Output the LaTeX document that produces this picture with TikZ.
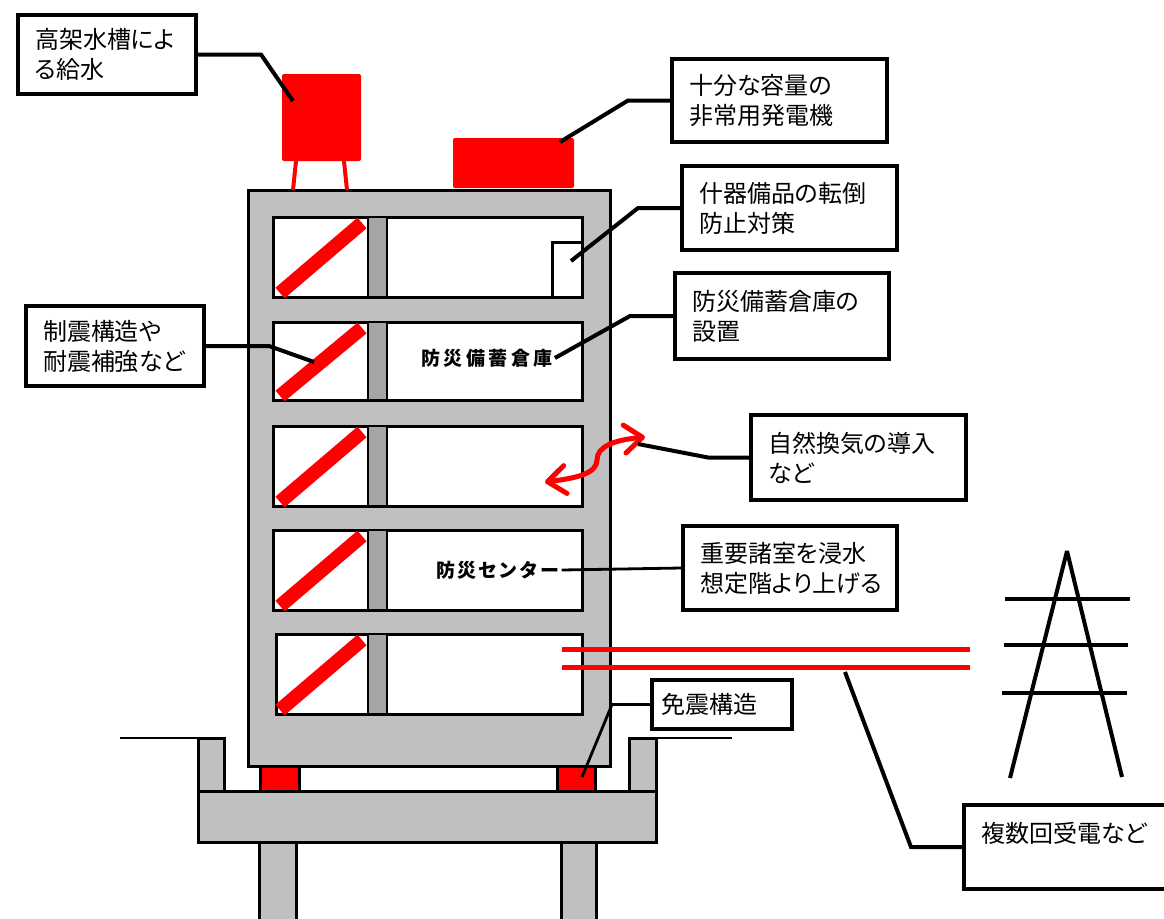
\documentclass[tikz,border=0pt]{standalone}
\usepackage{fontspec}
\usepackage{tikz}
\usetikzlibrary{arrows.meta}
\setmainfont{Noto Sans CJK JP}
\newfontfamily\calloutfont[RawFeature=+palt]{Noto Sans CJK JP}
\newfontfamily\roomfont{Noto Sans CJK JP}
\definecolor{bldGray}{HTML}{C0C0C0}
\definecolor{bldColumn}{HTML}{A5A5A5}
\definecolor{bldRed}{HTML}{FF0000}
\tikzset{
  concrete/.style={draw=black, fill=bldGray, line width=1.5pt},
  room/.style={draw=black, fill=white, line width=1.5pt},
  column/.style={draw=black, fill=bldColumn, line width=0.6pt},
  brace/.style={draw=bldRed, line width=7pt},
  callout/.style={draw=black, line width=2pt, fill=white, anchor=north west,
    align=left, inner xsep=8.5pt, inner ysep=0pt,
    font=\calloutfont\fontsize{12pt}{15pt}\selectfont},
  leader/.style={draw=black, line width=2pt},
  thin leader/.style={draw=black, line width=1.4pt},
  room label/.style={font=\roomfont\bfseries\fontsize{9.5pt}{11pt}\selectfont,
    inner sep=1pt},
  cable/.style={draw=bldRed, line width=2.5pt},
  tower/.style={draw=black, line width=2pt, line join=bevel},
  airflow/.style={draw=bldRed, line width=2.5pt, line cap=round,
    {Straight Barb[length=9pt,width=14pt,round]}-{Straight Barb[length=9pt,width=14pt,round]}}
}

\begin{document}
\begin{tikzpicture}[x=0.5pt, y=-0.5pt]
  \useasboundingbox (0,0) rectangle (1164,918);
  % piles, footing, retaining walls
  \draw[concrete] (259,842) rectangle (296,930);
  \draw[concrete] (561,842) rectangle (596,930);
  \draw[concrete] (198,738) rectangle (224,791);
  \draw[concrete] (629,738) rectangle (656,791);
  \draw[concrete] (198,791) rectangle (656,842);
  \draw[line width=0.8pt] (120,738) -- (198,738);
  \draw[line width=0.8pt] (656,738) -- (732,738);
  % superstructure and isolators
  \draw[concrete] (248,190) rectangle (610,766);
  \draw[concrete, fill=bldRed] (260,766) rectangle (299,791);
  \draw[concrete, fill=bldRed] (557,766) rectangle (595,791);
  \foreach \xa/\ya/\yb in {273/217/297, 273/322/400, 273/426/506,
      273/530/610, 276/634/714} {
    \draw[room] (\xa,\ya) rectangle (582,\yb);
    \draw[brace] (280,\yb-4) -- (362,\ya+6);
    \draw[column] (368,\ya) rectangle (387,\yb);
  }
  \draw[room] (552,242) rectangle (582,297);
  % roof equipment
  \fill[bldRed, rounded corners=1pt] (282,74) rectangle (361,161);
  \draw[bldRed, line width=2pt] (296,161) -- (293,190) (344,161) -- (347,190);
  \fill[bldRed, rounded corners=1pt] (453,138) rectangle (574,188);
  % power lines and tower
  \draw[cable] (562,649) -- (970,649) (562,667) -- (970,667);
  \draw[tower] (1010,778) -- (1067,551) -- (1122,777);
  \draw[tower] (1005,599) -- (1130,599) (1004,645) -- (1128,645)
    (1002,693) -- (1127,693);
  % natural ventilation
  \draw[airflow] (545,482) .. controls (578,478) and (597,473) .. (597,460)
    .. controls (597,446) and (615,440) .. (645,437);

  \coordinate (tank tip) at (293,101);
  \coordinate (gen tip) at (560,142);
  \coordinate (shelf tip) at (571,261);
  \coordinate (brace tip) at (314,362);
  \coordinate (air tip) at (638,444);
  \coordinate (bearing tip) at (582,777);
  \coordinate (cable tip) at (845,672);

  \node[room label] (stock) at (487,358)
    {\addfontfeature{LetterSpace=18}防災備蓄倉庫};
  \node[room label] (center) at (498,570)
    {\addfontfeature{LetterSpace=9}防災センター};

  \node[callout, text width=72pt, minimum height=39.5pt] (water) at (16,13)
    {高架水槽によ\\る給水};
  \node[callout, text width=90.5pt, minimum height=41.5pt] (gen) at (670,57)
    {十分な容量の\\非常用発電機};
  \node[callout, text width=90.5pt, minimum height=42pt] (fix) at (680,164)
    {什器備品の転倒\\防止対策};
  \node[callout, text width=90pt, minimum height=43pt] (store) at (673,271)
    {防災備蓄倉庫の\\設置};
  \node[callout, text width=72pt, minimum height=40pt] (damp) at (24,304)
    {制震構造や\\耐震補強など};
  \node[callout, text width=90.5pt, minimum height=42.5pt] (vent) at (749,413)
    {自然換気の導入\\など};
  \node[callout, text width=90pt, minimum height=42pt] (raise) at (681,524)
    {重要諸室を浸水\\想定階より上げる};
  \node[callout, inner xsep=4.5pt, text width=61pt, minimum height=24.5pt]
    (isol) at (650,678) {免震構造};
  \node[callout, text width=150pt, minimum height=42pt] (recv) at (962,803)
    {複数回受電など\\ \mbox{}};

  \draw[leader] (water.east) -- ++(63,0) -- (tank tip);
  \draw[leader] (gen.west) -- ++(-42,0) -- (gen tip);
  \draw[leader] (fix.west) -- ++(-42,0) -- (shelf tip);
  \draw[leader] (store.west) -- ++(-43,0) -- (stock.east);
  \draw[leader] (damp.east) -- ++(63,0) -- (brace tip);
  \draw[leader] (vent.west) -- ++(-41,0) -- (air tip);
  \draw[thin leader] (raise.west) -- (center.east);
  \draw[thin leader] (isol.west) -- ++(-38,0) -- (bearing tip);
  \draw[leader] (recv.west) -- ++(-51,0) -- (cable tip);
\end{tikzpicture}
\end{document}
